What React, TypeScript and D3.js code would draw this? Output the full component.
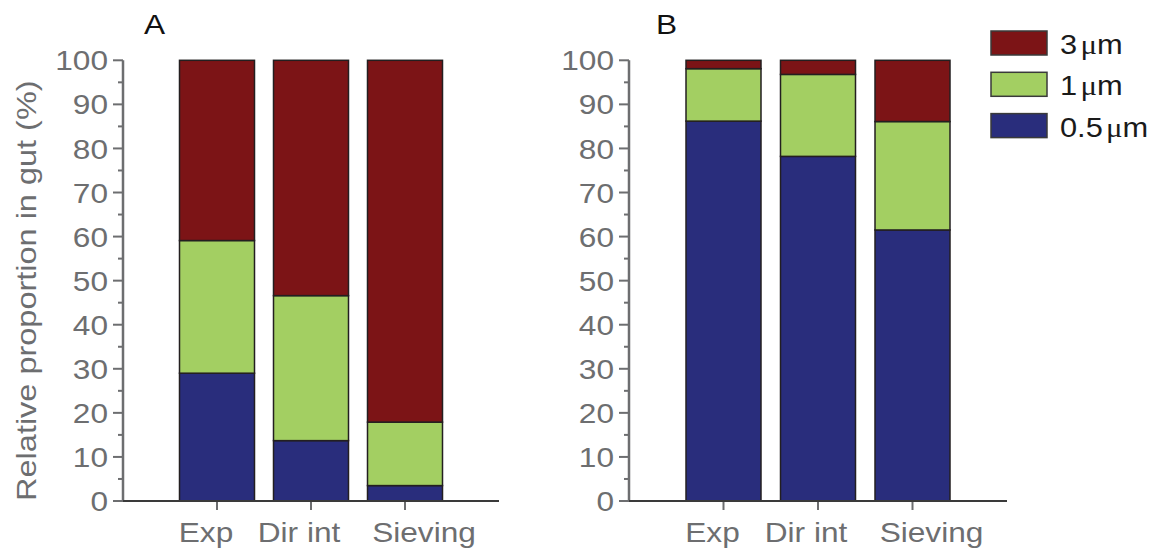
import React from "react";
import * as d3 from "d3";

const categories = ["Exp", "Dir int", "Sieving"];
const sizeKeys = ["s05", "s1", "s3"];
const legendNumbers = ["3", "1", "0.5"];
const legendKeys = ["s3", "s1", "s05"];

// Panel A values (%)
const aHalf = [29.0, 13.7, 3.5];
const aOne = [30.1, 32.9, 14.4];
const aThree = [40.9, 53.4, 82.1];
// Panel B values (%)
const bHalf = [86.2, 78.2, 61.5];
const bOne = [11.9, 18.6, 24.6];
const bThree = [1.9, 3.2, 13.9];

const yTicks = [0, 10, 20, 30, 40, 50, 60, 70, 80, 90, 100];
const yMinor = [5, 15, 25, 35, 45, 55, 65, 75, 85, 95];
const labelOffsets = [-11, -12, 19];

const colors: Record<string, string> = {
  s3: "#7c1416",
  s1: "#a3cf62",
  s05: "#292d7c",
};

const FONT = "'Liberation Sans', Arial, Helvetica, sans-serif";
const SERIF = "'Liberation Serif', 'Times New Roman', serif";
const GREY = "#6d6e70";
const SX = 1.13;

const yScale = d3.scaleLinear().domain([0, 100]).range([501, 60.3]);

function T({ x, y, children, anchor = "start", fill = GREY, dy, size = 28, sx = SX, rotate = 0 }: any) {
  return (
    <text
      transform={`translate(${x},${y}) rotate(${rotate}) scale(${sx},1)`}
      dy={dy}
      textAnchor={anchor}
      fontFamily={FONT}
      fontSize={size}
      fill={fill}
    >
      {children}
    </text>
  );
}

function buildRows(h: number[], o: number[], t: number[]) {
  return categories.map((c, i) => ({ cat: c, s05: h[i], s1: o[i], s3: t[i] }));
}

function Panel({ rows, x0, x1, letter, letterX }: { rows: any[]; x0: number; x1: number; letter: string; letterX: number }) {
  const xScale = d3.scalePoint<string>().domain(categories).range([x0, x1]).padding(1);
  const stack = d3.stack<any>().keys(sizeKeys);
  const series = stack(rows);
  const bw = 75;
  const y0 = yScale(0);
  return (
    <g>
      <T x={letterX} y={34} fill="#111">{letter}</T>
      {series.map((s) => (
        <g key={s.key}>
          {s.map((d, i) => (
            <rect
              key={i}
              x={(xScale(categories[i]) as number) - bw / 2}
              y={yScale(d[1])}
              width={bw}
              height={yScale(d[0]) - yScale(d[1])}
              fill={colors[s.key]}
              stroke="#231f20"
              strokeWidth={1.5}
            />
          ))}
        </g>
      ))}
      {/* y axis */}
      <line x1={x0} x2={x0} y1={yScale(100)} y2={y0} stroke={GREY} strokeWidth={2.5} />
      {yTicks.map((t) => (
        <g key={t}>
          <line x1={x0 - 10} x2={x0} y1={yScale(t)} y2={yScale(t)} stroke={GREY} strokeWidth={2} />
          <T x={x0 - 15} y={yScale(t)} dy="0.36em" anchor="end">{t}</T>
        </g>
      ))}
      {yMinor.map((t) => (
        <line key={t} x1={x0 - 5} x2={x0} y1={yScale(t)} y2={yScale(t)} stroke={GREY} strokeWidth={2} />
      ))}
      {/* x axis */}
      {categories.map((c, i) => (
        <g key={c}>
          <line x1={xScale(c)} x2={xScale(c)} y1={y0} y2={y0 + 9} stroke={GREY} strokeWidth={2} />
          <T x={(xScale(c) as number) + labelOffsets[i]} y={y0 + 41} anchor="middle">{c}</T>
        </g>
      ))}
      <line x1={x0} x2={x1} y1={y0} y2={y0} stroke="#3a3a3a" strokeWidth={2} />
    </g>
  );
}

export default function App() {
  const rowsA = buildRows(aHalf, aOne, aThree);
  const rowsB = buildRows(bHalf, bOne, bThree);
  return (
    <svg width={1170} height={558} style={{ position: "absolute", left: 0, top: 0 }}>
      <rect width={1170} height={558} fill="#fff" />
      <T x={36} y={yScale(50) + 10} anchor="middle" rotate={-90} sx={1.16}>
        Relative proportion in gut (%)
      </T>
      <Panel rows={rowsA} x0={123} x1={499} letter="A" letterX={144} />
      <Panel rows={rowsB} x0={629} x1={1007} letter="B" letterX={656} />
      {legendKeys.map((k, i) => (
        <g key={k} transform={`translate(991, ${31 + i * 41.3})`}>
          <rect width={56} height={24} fill={colors[k]} stroke="#3a3a3a" strokeWidth={1.5} />
          <T x={69} y={23} fill="#1a1a1a" sx={1.1}>
            {legendNumbers[i]}
            <tspan fontFamily={SERIF} dx={3}>{"\u03bc"}</tspan>
            <tspan>m</tspan>
          </T>
        </g>
      ))}
    </svg>
  );
}
